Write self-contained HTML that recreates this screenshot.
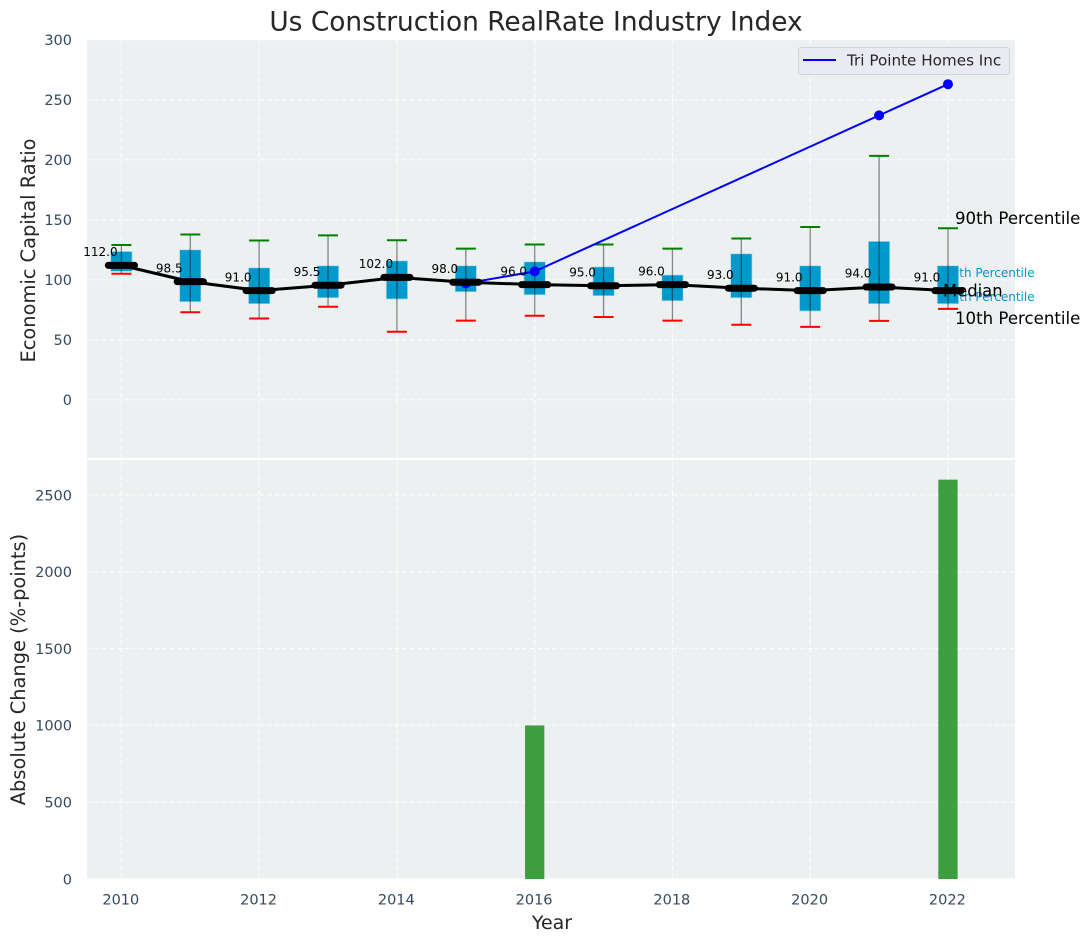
<!DOCTYPE html>
<html>
<head>
<meta charset="utf-8">
<title>Us Construction RealRate Industry Index</title>
<style>
html,body{margin:0;padding:0;background:#fff;}
svg{display:block;}
text{font-family:"DejaVu Sans","Liberation Sans",sans-serif;}
</style>
</head>
<body>
<svg id="chart" xmlns="http://www.w3.org/2000/svg" width="1090" height="942" viewBox="0 0 1090 942">
<rect x="87" y="40" width="928" height="418" fill="#ecf0f1"/>
<rect x="87" y="460" width="928" height="418.5" fill="#ecf0f1"/>
<g id="grid"></g>
<g id="ticks"></g>
<text x="944" y="277" font-size="12" fill="#0099cc">75th Percentile</text>
<text x="944" y="301" font-size="12" fill="#0099cc">25th Percentile</text>
<g id="boxes"></g>
<g id="company"></g>
<g id="medians"></g>
<g id="bars"></g>
<text x="955" y="224" font-size="16.6" fill="#000">90th Percentile</text>
<text x="943" y="296.5" font-size="16.4" fill="#000">Median</text>
<text x="955" y="324" font-size="16.6" fill="#000">10th Percentile</text>
<text x="536" y="30.5" font-size="26.4" fill="#262626" text-anchor="middle">Us Construction RealRate Industry Index</text>
<text transform="translate(35,250.5) rotate(-90)" font-size="19.4" fill="#262626" text-anchor="middle">Economic Capital Ratio</text>
<text transform="translate(25,669.5) rotate(-90)" font-size="19.4" fill="#262626" text-anchor="middle">Absolute Change (%-points)</text>
<text x="552" y="929" font-size="19" fill="#262626" text-anchor="middle">Year</text>
<g>
<rect x="798.5" y="47.5" width="211" height="27" rx="3" fill="#eaeaf2" stroke="#d2d2d6" stroke-width="1"/>
<line x1="803" y1="60" x2="836" y2="60" stroke="#0000ff" stroke-width="2"/>
<text x="847" y="65.5" font-size="15.2" fill="#262626">Tri Pointe Homes Inc</text>
</g>
</svg>
<script>
const years = [2010,2011,2012,2013,2014,2015,2016,2017,2018,2019,2020,2021,2022];
const whiskerHigh = [129,137.8,132.8,137,133,126,129.4,129.4,126,134.4,144,203.3,143];
const q3 = [123.6,125,110,111.7,115.8,111.7,115,110.8,104,121.7,111.7,132,111.7];
const q1 = [107,81.7,80,85,84,90,87.5,86.7,82.5,85,74,80,80];
const whiskerLow = [105,73,67.8,77.5,56.7,66,70,69,66,62.5,60.8,65.8,75.8];
const medians = [112,98.5,91,95.5,102,98,96,95,96,93,91,94,91];
const companyYears = [2015,2016,2021,2022];
const companyValues = [97,107,237,263];
const barYears = [2016,2022];
const barValues = [1000,2600];
const topTicks = [0,50,100,150,200,250,300];
const bottomTicks = [0,500,1000,1500,2000,2500];
const xTicks = [2010,2012,2014,2016,2018,2020,2022];

const NS = 'http://www.w3.org/2000/svg';
const BOX_W = 0.31, CAP_W = 0.29, MED_W = 0.38, BAR_W = 0.28;
function x(v){ return 121.4 + (v - 2010) * 68.88; }
function yTop(v){ return 399.8 - v * 1.2; }
function yBottom(v){ return 879 - v * 0.1536; }
function width(v){ return v * 68.88; }
function make(tag, attrs, parent){
  const el = document.createElementNS(NS, tag);
  for (const k in attrs) el.setAttribute(k, attrs[k]);
  parent.appendChild(el);
  return el;
}
const grid = document.getElementById('grid');
const ticks = document.getElementById('ticks');
const boxes = document.getElementById('boxes');
const company = document.getElementById('company');
const medianGroup = document.getElementById('medians');
const bars = document.getElementById('bars');
const dash = {stroke:'#ffffff','stroke-width':1.2,'stroke-dasharray':'5 2.5',opacity:0.85};

topTicks.forEach(function(t){
  const g = make('line', Object.assign({x1:87,x2:1015,y1:yTop(t),y2:yTop(t)},dash), grid);
  
  
  const l = make('text', {x:72,y:yTop(t)+5.3,'font-size':14.5,fill:'#34495e','text-anchor':'end'}, ticks);
  l.textContent = t;
  
  
});
bottomTicks.forEach(function(t){
  const g = make('line', Object.assign({x1:87,x2:1015,y1:yBottom(t),y2:yBottom(t)},dash), grid);
  
  
  const l = make('text', {x:72,y:yBottom(t)+5.3,'font-size':14.5,fill:'#34495e','text-anchor':'end'}, ticks);
  l.textContent = t;
  
  
});
xTicks.forEach(function(t){
  const g1 = make('line', Object.assign({x1:x(t),x2:x(t),y1:40,y2:458},dash), grid);
  
  
  const g2 = make('line', Object.assign({x1:x(t),x2:x(t),y1:460,y2:878.5},dash), grid);
  
  
  const l = make('text', {x:x(t)-0.6,y:904.5,'font-size':14.5,fill:'#34495e','text-anchor':'middle'}, ticks);
  l.textContent = t;
  
  
});

years.forEach(function(yr,i){
  const cx = x(yr);
  const bx = make('rect', {x:cx-width(BOX_W)/2,y:yTop(q3[i]),width:width(BOX_W),height:yTop(q1[i])-yTop(q3[i]),fill:'#0099cc',stroke:'#b5dcea','stroke-width':0.7}, boxes);
  
  
  const wh = make('line', {x1:cx,x2:cx,y1:yTop(whiskerHigh[i]),y2:yTop(whiskerLow[i]),stroke:'#000','stroke-opacity':0.45,'stroke-width':1.3}, boxes);
  
  
  const capHi = make('line', {x1:cx-width(CAP_W)/2,x2:cx+width(CAP_W)/2,y1:yTop(whiskerHigh[i]),y2:yTop(whiskerHigh[i]),stroke:'#008000','stroke-width':2}, boxes);
  
  
  const capLo = make('line', {x1:cx-width(CAP_W)/2,x2:cx+width(CAP_W)/2,y1:yTop(whiskerLow[i]),y2:yTop(whiskerLow[i]),stroke:'#ff0000','stroke-width':2}, boxes);
  
  
});

const companyLine = make('polyline', {points:companyYears.map(function(yr,i){return x(yr)+','+yTop(companyValues[i]);}).join(' '),fill:'none',stroke:'#0000ff','stroke-width':2}, company);


companyYears.forEach(function(yr,i){
  const p = make('circle', {cx:x(yr),cy:yTop(companyValues[i]),r:5,fill:'#0000ff'}, company);
  
  
});

const medianLine = make('polyline', {points:years.map(function(yr,i){return x(yr)+','+yTop(medians[i]);}).join(' '),fill:'none',stroke:'#000','stroke-width':3}, medianGroup);


years.forEach(function(yr,i){
  const m = make('line', {x1:x(yr)-width(MED_W)/2,x2:x(yr)+width(MED_W)/2,y1:yTop(medians[i]),y2:yTop(medians[i]),stroke:'#000','stroke-width':7,'stroke-linecap':'round'}, medianGroup);
  
  
  const t = make('text', {x:x(yr)-21,y:yTop(medians[i])-9.3,'font-size':12,fill:'#000','text-anchor':'middle'}, medianGroup);
  t.textContent = medians[i].toFixed(1);
  
  
});

barYears.forEach(function(yr,i){
  const b = make('rect', {x:x(yr)-width(BAR_W)/2,y:yBottom(barValues[i]),width:width(BAR_W),height:yBottom(0)-yBottom(barValues[i]),fill:'#3d9e40'}, bars);
  
  
});
</script>
</body>
</html>
